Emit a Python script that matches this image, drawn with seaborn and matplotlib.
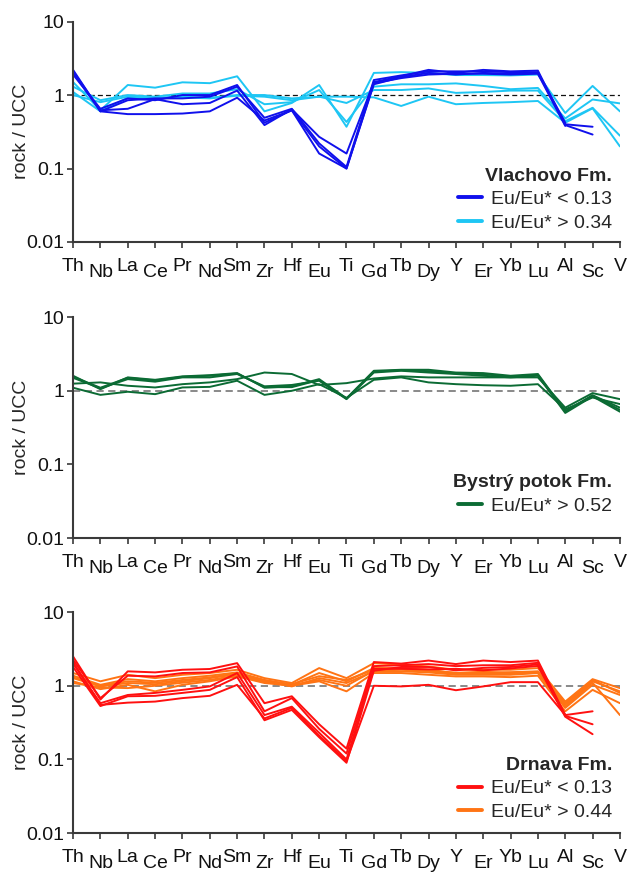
import numpy as np
import pandas as pd
import matplotlib
matplotlib.use("Agg")
import matplotlib.pyplot as plt
import seaborn as sns
from matplotlib.lines import Line2D
from matplotlib.transforms import ScaledTranslation

nan = np.nan
elements = ["Th", "Nb", "La", "Ce", "Pr", "Nd", "Sm", "Zr", "Hf", "Eu", "Ti",
            "Gd", "Tb", "Dy", "Y", "Er", "Yb", "Lu", "Al", "Sc", "V"]

# ---- Vlachovo Fm. ----
vlachovo_low = [  # Eu/Eu* < 0.13
    [2.0, 0.60, 0.55, 0.55, 0.56, 0.60, 0.92, 0.45, 0.62, 0.16, 0.100, 1.40, 1.75, 2.00, 1.90, 2.00, 1.95, 2.00, 0.40, 0.37, nan],
    [2.1, 0.62, 0.65, 0.88, 0.75, 0.78, 1.15, 0.39, 0.64, 0.27, 0.160, 1.50, 1.80, 2.20, 2.00, 2.20, 2.10, 2.15, 0.39, 0.29, nan],
    [2.2, 0.60, 0.85, 0.90, 0.90, 0.95, 1.30, 0.49, 0.65, 0.22, 0.105, 1.60, 1.85, 2.10, 2.10, 2.10, 2.05, 2.05, 0.42, nan, nan],
    [1.9, 0.65, 0.90, 0.85, 1.00, 1.00, 1.37, 0.42, 0.62, 0.20, 0.100, 1.45, 1.70, 1.90, 1.95, 1.95, 1.90, 1.95, 0.38, nan, nan],
]
vlachovo_high = [  # Eu/Eu* > 0.34
    [1.50, 0.62, 1.37, 1.26, 1.49, 1.45, 1.80, 0.60, 0.78, 1.37, 0.37, 2.00, 2.05, 2.00, 1.87, 1.87, 1.85, 1.90, 0.57, 1.33, 0.60],
    [1.30, 0.85, 1.00, 0.95, 1.05, 1.05, 1.20, 0.75, 0.80, 1.17, 0.43, 1.30, 1.40, 1.40, 1.44, 1.33, 1.20, 1.25, 0.48, 0.87, 0.77],
    [1.00, 0.80, 0.95, 0.92, 0.95, 0.92, 1.00, 1.00, 0.90, 0.95, 0.78, 1.17, 1.17, 1.23, 1.07, 1.10, 1.15, 1.15, 0.44, 0.67, 0.28],
    [1.10, 0.60, 0.92, 0.90, 0.93, 0.90, 0.98, 0.95, 0.85, 0.95, 0.95, 0.93, 0.71, 0.95, 0.75, 0.78, 0.80, 0.83, 0.42, 0.66, 0.20],
]

# ---- Bystrý potok Fm. ----
bystry_high = [  # Eu/Eu* > 0.52
    [1.60, 1.05, 1.52, 1.41, 1.57, 1.63, 1.74, 1.10, 1.15, 1.44, 0.79, 1.87, 1.93, 1.93, 1.77, 1.74, 1.60, 1.69, 0.53, 0.87, 0.59],
    [1.50, 1.08, 1.44, 1.33, 1.52, 1.52, 1.69, 1.15, 1.20, 1.37, 0.77, 1.77, 1.87, 1.77, 1.69, 1.60, 1.52, 1.60, 0.50, 0.84, 0.52],
    [1.25, 1.30, 1.17, 1.11, 1.23, 1.30, 1.44, 1.77, 1.69, 1.20, 1.27, 1.47, 1.57, 1.52, 1.52, 1.52, 1.52, 1.52, 0.59, 0.93, 0.77],
    [1.10, 0.88, 0.97, 0.90, 1.11, 1.13, 1.37, 0.88, 1.00, 1.23, 0.80, 1.41, 1.52, 1.30, 1.23, 1.19, 1.17, 1.23, 0.56, 0.81, 0.66],
    [1.55, 1.10, 1.50, 1.38, 1.55, 1.60, 1.72, 1.12, 1.12, 1.40, 0.78, 1.82, 1.90, 1.85, 1.72, 1.68, 1.55, 1.65, 0.52, 0.86, 0.55],
]

# ---- Drnava Fm. ----
drnava_low = [  # Eu/Eu* < 0.13
    [2.50, 0.65, 1.57, 1.52, 1.65, 1.69, 2.03, 0.58, 0.72, 0.30, 0.140, 2.10, 2.00, 2.20, 1.97, 2.20, 2.10, 2.20, 0.40, 0.45, nan],
    [2.25, 0.68, 1.37, 1.34, 1.49, 1.52, 1.83, 0.45, 0.68, 0.26, 0.120, 1.85, 1.90, 1.97, 1.85, 1.90, 1.90, 2.05, 0.39, 0.30, nan],
    [2.00, 0.58, 0.75, 0.80, 0.88, 0.98, 1.49, 0.40, 0.52, 0.23, 0.100, 1.70, 1.70, 1.67, 1.70, 1.62, 1.72, 1.86, 0.38, 0.22, nan],
    [1.80, 0.53, 0.72, 0.73, 0.80, 0.88, 1.31, 0.34, 0.47, 0.20, 0.090, 1.60, 1.80, 1.80, 1.62, 1.75, 1.80, 1.95, 0.40, nan, nan],
    [2.10, 0.55, 0.59, 0.61, 0.68, 0.73, 1.03, 0.36, 0.50, 0.21, 0.095, 1.00, 0.98, 1.03, 0.87, 0.98, 1.12, 1.12, 0.40, nan, nan],
]
drnava_high = [  # Eu/Eu* > 0.44
    [1.49, 1.15, 1.41, 1.27, 1.41, 1.49, 1.65, 1.27, 1.09, 1.74, 1.27, 2.03, 1.93, 1.83, 1.65, 1.65, 1.65, 1.74, 0.61, 1.23, 0.93],
    [1.37, 1.03, 1.23, 1.15, 1.27, 1.37, 1.52, 1.20, 1.03, 1.49, 1.15, 1.74, 1.74, 1.65, 1.49, 1.49, 1.53, 1.57, 0.55, 1.15, 0.84],
    [1.27, 0.98, 1.09, 1.05, 1.15, 1.27, 1.44, 1.15, 0.98, 1.27, 1.09, 1.57, 1.57, 1.52, 1.41, 1.41, 1.41, 1.49, 0.50, 1.03, 0.75],
    [1.15, 0.90, 1.03, 0.84, 1.03, 1.15, 1.34, 1.09, 1.00, 1.15, 0.84, 1.49, 1.49, 1.41, 1.34, 1.34, 1.31, 1.37, 0.45, 0.88, 0.58],
    [1.09, 0.95, 0.93, 1.00, 1.10, 1.20, 1.38, 1.12, 1.02, 1.20, 1.00, 1.60, 1.65, 1.58, 1.45, 1.45, 1.45, 1.50, 0.52, 1.10, 0.40],
    [1.30, 1.00, 1.15, 1.10, 1.20, 1.30, 1.48, 1.18, 1.05, 1.35, 1.20, 1.65, 1.70, 1.60, 1.50, 1.55, 1.50, 1.55, 0.58, 1.20, 0.80],
]

ytick_vals = [0.01, 0.1, 1, 10]
ytick_labels = ["0.01", "0.1", "1", "10"]


def to_long(groups):
    rows = []
    for gname, series in groups:
        for k, vals in enumerate(series):
            for i, v in enumerate(vals):
                if not np.isnan(v):
                    rows.append(dict(pos=i, element=elements[i], value=v,
                                     group=gname, sample=f"{gname}_{k}"))
    return pd.DataFrame(rows)


panels = [
    dict(groups=[("Eu/Eu* > 0.34", vlachovo_high), ("Eu/Eu* < 0.13", vlachovo_low)],
         colors={"Eu/Eu* < 0.13": "#1010ec", "Eu/Eu* > 0.34": "#1ec6f4"},
         order=["Eu/Eu* < 0.13", "Eu/Eu* > 0.34"],
         title="Vlachovo Fm.", dash="#111111", dlw=0.9, anchor=(1.0, 0.012),
         rect=[0.116, 0.7228, 0.868, 0.2525]),
    dict(groups=[("Eu/Eu* > 0.52", bystry_high)],
         colors={"Eu/Eu* > 0.52": "#0b6b34"},
         order=["Eu/Eu* > 0.52"],
         title="Bystrý potok Fm.", dash="#808080", dlw=1.3, anchor=(1.0, 0.07),
         rect=[0.116, 0.3837, 0.868, 0.2530]),
    dict(groups=[("Eu/Eu* > 0.44", drnava_high), ("Eu/Eu* < 0.13", drnava_low)],
         colors={"Eu/Eu* < 0.13": "#ff1010", "Eu/Eu* > 0.44": "#ff7414"},
         order=["Eu/Eu* < 0.13", "Eu/Eu* > 0.44"],
         title="Drnava Fm.", dash="#808080", dlw=1.3, anchor=(1.0, 0.02),
         rect=[0.116, 0.0458, 0.868, 0.2530]),
]

sns.set_style("ticks")
plt.rcParams["font.family"] = ["Liberation Sans", "DejaVu Sans"]
plt.rcParams["axes.edgecolor"] = "#3a3a3a"
plt.rcParams["xtick.color"] = "#3a3a3a"
plt.rcParams["ytick.color"] = "#3a3a3a"
plt.rcParams["xtick.labelcolor"] = "#111111"
plt.rcParams["ytick.labelcolor"] = "#111111"

fig = plt.figure(figsize=(6.30, 8.73), dpi=100)

for p in panels:
    ax = fig.add_axes(p["rect"])
    df = to_long(p["groups"])
    ax.axhline(1, color=p["dash"], lw=p["dlw"], ls=(0, (4, 2.5)), zorder=1)
    sns.lineplot(data=df, x="pos", y="value", hue="group", units="sample",
                 estimator=None, palette=p["colors"], lw=1.4, ax=ax,
                 legend=False, zorder=2, sort=False)
    ax.set_yscale("log")
    ax.set_ylim(0.01, 10)
    ax.set_xlim(0, len(elements) - 1)
    ax.set_yticks(ytick_vals)
    ax.set_yticklabels(ytick_labels)
    ax.yaxis.set_minor_locator(matplotlib.ticker.NullLocator())
    ax.set_xticks(range(len(elements)))
    ax.set_xticklabels(elements)
    ax.tick_params(axis="both", labelsize=14, length=4, width=1.2, direction="out")
    ax.tick_params(axis="x", pad=7.5)
    ax.tick_params(axis="y", pad=2)
    for i, lab in enumerate(ax.get_xticklabels()):
        if i % 2 == 1:
            lab.set_transform(lab.get_transform() +
                              ScaledTranslation(0, -6 / 100, fig.dpi_scale_trans))
    ax.set_xlabel("")
    ax.set_ylabel("rock / UCC", fontsize=14, labelpad=-2.5)
    for s in ["top", "right"]:
        ax.spines[s].set_visible(False)
    ax.spines["left"].set_linewidth(1.5)
    ax.spines["bottom"].set_linewidth(1.5)

    handles = [Line2D([0], [0], color=p["colors"][g], lw=2.8) for g in p["order"]]
    leg = ax.legend(handles, p["order"], title=p["title"], loc="lower right",
                    bbox_to_anchor=p["anchor"], frameon=False, fontsize=14,
                    alignment="right", handlelength=1.25, handletextpad=0.45,
                    labelspacing=0.3, borderpad=0.2, borderaxespad=0.2,
                    title_fontproperties={"weight": "bold", "size": 14})

fig.savefig("out.png", dpi=100)
